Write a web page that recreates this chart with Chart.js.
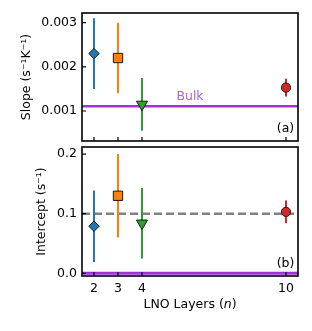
<!DOCTYPE html>
<html>
<head>
<meta charset="utf-8">
<script src="https://cdn.jsdelivr.net/npm/chart.js@4"></script>
<style>
  body { margin: 0; background: #fff; }
  #wrap { position: relative; width: 312px; height: 331px; }
  canvas { position: absolute; left: 0; }
</style>
</head>
<body>
<div id="wrap">
  <canvas id="intercept" width="312" height="192" style="top:139px"></canvas>
  <canvas id="slope" width="312" height="149" style="top:0"></canvas>
</div>
<script>
// values
const layers = [2, 3, 4, 10];
const slope = [0.0023, 0.0022, 0.00115, 0.00153];
const slopeErr = [0.0008, 0.0008, 0.0006, 0.0002];
const intercept = [0.079, 0.13, 0.084, 0.103];
const interceptErr = [0.06, 0.07, 0.059, 0.019];
const bulkSlope = 0.00111;
const bulkIntercept = 0.0;
const refIntercept = 0.1;

const xTicks = [2, 3, 4, 10];
const slopeTicks = [0.001, 0.002, 0.003];
const interceptTicks = [0.0, 0.1, 0.2];
const xRange = [1.5, 10.5];

const markerColors = ["#1f77b4", "#ff7f0e", "#2ca02c", "#d62728"];
const markerStyles = ["rectRot", "rect", "triangle", "circle"];
const markerRotation = [0, 0, 180, 0];
const markerRadius = [5.2, 6.6, 6.4, 4.6];

const PURPLE = "#a033d8";
const FONT = "DejaVu Sans";
Chart.defaults.font.family = FONT;
Chart.defaults.font.size = 12.5;
Chart.defaults.color = "#000";

function errorBars(vals, errs) {
  return layers.map((x, i) => ({
    type: "line",
    data: [{ x: x, y: vals[i] - errs[i] }, { x: x, y: vals[i] + errs[i] }],
    borderColor: markerColors[i],
    borderWidth: 2,
    pointRadius: 0,
    order: 2,
  }));
}

function hline(y, color, width, dash) {
  return {
    type: "line",
    data: [{ x: xRange[0], y: y }, { x: xRange[1], y: y }],
    borderColor: color,
    borderWidth: width,
    borderDash: dash || [],
    pointRadius: 0,
    order: 3,
  };
}

function markers(vals) {
  return {
    type: "scatter",
    data: layers.map((x, i) => ({ x: x, y: vals[i] })),
    pointStyle: markerStyles,
    pointRotation: markerRotation,
    pointRadius: markerRadius,
    pointBackgroundColor: markerColors,
    pointBorderColor: "#1a1a1a",
    pointBorderWidth: 1,
    order: 0,
  };
}

// frame, inward ticks and the panel texts
function framePlugin(panelLabel, extra) {
  return {
    id: "frame",
    afterDraw(chart) {
      const ctx = chart.ctx;
      const a = chart.chartArea;
      const xs = chart.scales.x, ys = chart.scales.y;
      ctx.save();
      ctx.strokeStyle = "#000";
      ctx.lineWidth = 1.2;
      ctx.beginPath();
      xTicks.forEach((v) => {
        const px = xs.getPixelForValue(v);
        ctx.moveTo(px, a.bottom);
        ctx.lineTo(px, a.bottom - 4);
      });
      ys.ticks.forEach((t) => {
        const py = ys.getPixelForValue(t.value);
        ctx.moveTo(a.left, py);
        ctx.lineTo(a.left + 4, py);
      });
      ctx.stroke();
      ctx.lineWidth = 1.6;
      ctx.strokeRect(a.left, a.top, a.right - a.left, a.bottom - a.top);

      ctx.fillStyle = "#000";
      ctx.font = "12.5px " + FONT;
      ctx.textAlign = "center";
      ctx.textBaseline = "middle";
      ctx.fillText(panelLabel, a.right - 12.5, a.bottom - 12);
      if (extra) extra(chart, ctx);
      ctx.restore();
    },
  };
}

function yScale(min, max, ticks, digits, title, titlePad) {
  return {
    type: "linear",
    min: min,
    max: max,
    afterBuildTicks: (s) => { s.ticks = ticks.map((v) => ({ value: v })); },
    afterFit: (s) => { s.width = 82; s.paddingTop = 0; s.paddingBottom = 0; },
    grid: { display: false, drawTicks: false },
    border: { display: false },
    ticks: { padding: 5, callback: (v) => v.toFixed(digits) },
    title: { display: true, text: title, padding: { top: titlePad, bottom: 0 } },
  };
}

const common = {
  responsive: false,
  animation: false,
  events: [],
  plugins: { legend: { display: false }, tooltip: { enabled: false } },
};

new Chart(document.getElementById("slope"), {
  type: "scatter",
  data: {
    datasets: [
      markers(slope),
      ...errorBars(slope, slopeErr),
      hline(bulkSlope, PURPLE, 2.5),
    ],
  },
  options: {
    ...common,
    layout: { padding: { top: 13, right: 14, left: 0, bottom: 8 } },
    scales: {
      x: { type: "linear", min: xRange[0], max: xRange[1], display: false },
      y: yScale(0.00032, 0.00322, slopeTicks, 3, "Slope (s\u207B\u00B9K\u207B\u00B9)", 19.5),
    },
  },
  plugins: [framePlugin("(a)", (chart, ctx) => {
    const px = chart.scales.x.getPixelForValue(6.0);
    const py = chart.scales.y.getPixelForValue(bulkSlope);
    ctx.fillStyle = "#b45ee0";
    ctx.fillText("Bulk", px, py - 9.8);
  })],
});

new Chart(document.getElementById("intercept"), {
  type: "scatter",
  data: {
    datasets: [
      markers(intercept),
      ...errorBars(intercept, interceptErr),
      hline(refIntercept, "#808080", 2.4, [8, 4]),
      hline(bulkIntercept, PURPLE, 3),
    ],
  },
  options: {
    ...common,
    layout: { padding: { top: 8, right: 14, left: 0, bottom: 0 } },
    scales: {
      x: {
        type: "linear",
        min: xRange[0],
        max: xRange[1],
        afterBuildTicks: (s) => { s.ticks = xTicks.map((v) => ({ value: v })); },
        afterFit: (s) => { s.height = 55; s.paddingLeft = 0; s.paddingRight = 0; },
        grid: { display: false, drawTicks: false },
        border: { display: false },
        ticks: { padding: 5, autoSkip: false, maxRotation: 0 },
      },
      y: yScale(-0.0045, 0.2118, interceptTicks, 1, "Intercept (s\u207B\u00B9)", 34.5),
    },
  },
  plugins: [framePlugin("(b)", (chart, ctx) => {
    // x-axis title with an italic n
    const a = chart.chartArea;
    const parts = [["LNO Layers (", ""], ["n", "italic "], [")", ""]];
    let total = 0;
    parts.forEach((p) => { ctx.font = p[1] + "12.5px " + FONT; total += ctx.measureText(p[0]).width; });
    let x = (a.left + a.right) / 2 - total / 2;
    ctx.textAlign = "left";
    parts.forEach((p) => {
      ctx.font = p[1] + "12.5px " + FONT;
      ctx.fillText(p[0], x, 166);
      x += ctx.measureText(p[0]).width;
    });
  })],
});
</script>
</body>
</html>
